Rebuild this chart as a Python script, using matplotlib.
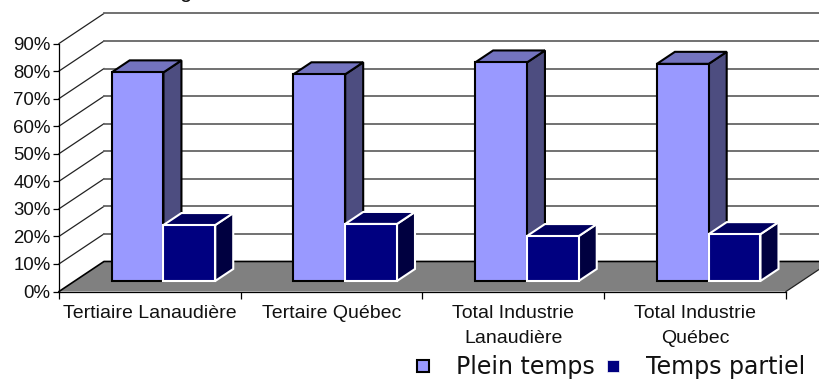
#!/usr/bin/env python3
import matplotlib

matplotlib.use("Agg")
import matplotlib.pyplot as plt
from matplotlib.lines import Line2D
from matplotlib.patches import Polygon
import numpy as np

CATEGORIES = [
    "Tertiaire Lanaudière",
    "Tertaire Québec",
    "Total Industrie\nLanaudière",
    "Total Industrie\nQuébec",
]
PLEIN_TEMPS = [75.7, 75.0, 79.3, 78.8]
TEMPS_PARTIEL = [20.3, 20.7, 16.3, 17.0]
YTICKS = [0, 10, 20, 30, 40, 50, 60, 70, 80, 90]
SERIES_NAMES = ["Plein temps", "Temps partiel"]

# full depth of the fake 3d box, in data units
DEPTH_X = 0.2476
DEPTH_Y = 10.9
BAR_DEPTH = (0.35, 0.75)
BAR_START = 0.203
BAR_WIDTH = 0.285

PLEIN_COLORS = ("#9999FF", "#7373BF", "#4D4D80")
PARTIEL_COLORS = ("#000080", "#000060", "#000040")


def shift(x, y, depth):
    return x + depth * DEPTH_X, y + depth * DEPTH_Y


def draw_box(ax, left, right, value, colors, edge, z):
    d0, d1 = BAR_DEPTH
    front = [shift(left, 0, d0), shift(right, 0, d0), shift(right, value, d0), shift(left, value, d0)]
    top = [shift(left, value, d0), shift(right, value, d0), shift(right, value, d1), shift(left, value, d1)]
    side = [shift(right, 0, d0), shift(right, 0, d1), shift(right, value, d1), shift(right, value, d0)]
    for pts, col in zip((side, top, front), (colors[2], colors[1], colors[0])):
        ax.add_patch(
            Polygon(pts, closed=True, facecolor=col, edgecolor=edge, linewidth=1.5,
                    joinstyle="miter", clip_on=False, zorder=z)
        )


def main():
    plt.rcParams["font.family"] = ["Liberation Sans", "DejaVu Sans"]
    fig = plt.figure(figsize=(8.19, 3.79), dpi=100)
    ax = fig.add_axes([59 / 819, 1 - 291.5 / 379, 727 / 819, 248 / 379])
    ax.set_xlim(0, len(CATEGORIES))
    ax.set_ylim(0, YTICKS[-1])

    ax.patch.set_visible(False)
    for name in ("top", "right"):
        ax.spines[name].set_visible(False)
    for name in ("left", "bottom"):
        ax.spines[name].set_linewidth(0.9)
        ax.spines[name].set_zorder(6)

    # back wall and left wall lines
    n = len(CATEGORIES)
    for v in YTICKS[1:]:
        x0, y0 = shift(0, v, 0)
        x1, y1 = shift(0, v, 1)
        x2, y2 = shift(n, v, 1)
        ax.plot([x0, x1], [y0, y1], color="#222222", lw=0.9, clip_on=False, zorder=1)
        ax.plot([x1, x2], [y1, y2], color="#666666", lw=1.3, clip_on=False, zorder=1)

    # floor
    floor = [shift(0, 0, 0), shift(n, 0, 0), shift(n, 0, 1), shift(0, 0, 1)]
    ax.add_patch(Polygon(floor, closed=True, facecolor="#808080", edgecolor="none", clip_on=False, zorder=2))
    ax.plot(*zip(floor[0], floor[3], floor[2]), color="black", lw=1.2, clip_on=False, zorder=3)
    ax.plot(*zip(floor[1], floor[2]), color="#222222", lw=0.9, clip_on=False, zorder=3)

    for i in range(n):
        left = i + BAR_START
        draw_box(ax, left, left + BAR_WIDTH, PLEIN_TEMPS[i], PLEIN_COLORS, "black", 4)
        draw_box(ax, left + BAR_WIDTH, left + 2 * BAR_WIDTH, TEMPS_PARTIEL[i], PARTIEL_COLORS, "white", 5)

    ax.set_yticks(YTICKS)
    ax.set_yticklabels([f"{v}%" for v in YTICKS], fontsize=13.4, color="#111111")
    ax.tick_params(axis="y", length=4, width=0.9, pad=2)
    ax.set_xticks(np.arange(n + 1))
    ax.set_xticklabels([])
    ax.set_xticks(np.arange(n) + 0.5, minor=True)
    ax.set_xticklabels(CATEGORIES, minor=True, fontsize=14, color="#111111", linespacing=1.55)
    ax.tick_params(axis="x", which="major", length=5, width=0.9)
    ax.tick_params(axis="x", which="minor", length=0, pad=10)

    # remains of a title cut by the top of the picture
    fig.text(185 / 819, 1 + 3 / 379, "g", ha="center", va="baseline", fontsize=16, color="#111111")

    handles = [
        Line2D([], [], linestyle="none", marker="s", markersize=9, markerfacecolor=PLEIN_COLORS[0],
               markeredgecolor="black", markeredgewidth=1.5, label=SERIES_NAMES[0]),
        Line2D([], [], linestyle="none", marker="s", markersize=8, markerfacecolor=PARTIEL_COLORS[0],
               markeredgecolor="white", markeredgewidth=0.5, label=SERIES_NAMES[1]),
    ]
    fig.legend(
        handles=handles,
        loc="lower right",
        bbox_to_anchor=(1 - 9 / 819, -0.012),
        ncol=2,
        frameon=False,
        handlelength=1.0,
        handletextpad=0.9,
        columnspacing=0.26,
        borderpad=0.2,
        borderaxespad=0,
        prop={"family": "DejaVu Sans", "size": 17},
        labelcolor="#111111",
    )
    fig.savefig("out.png", dpi=100)
    plt.close(fig)


if __name__ == "__main__":
    main()
